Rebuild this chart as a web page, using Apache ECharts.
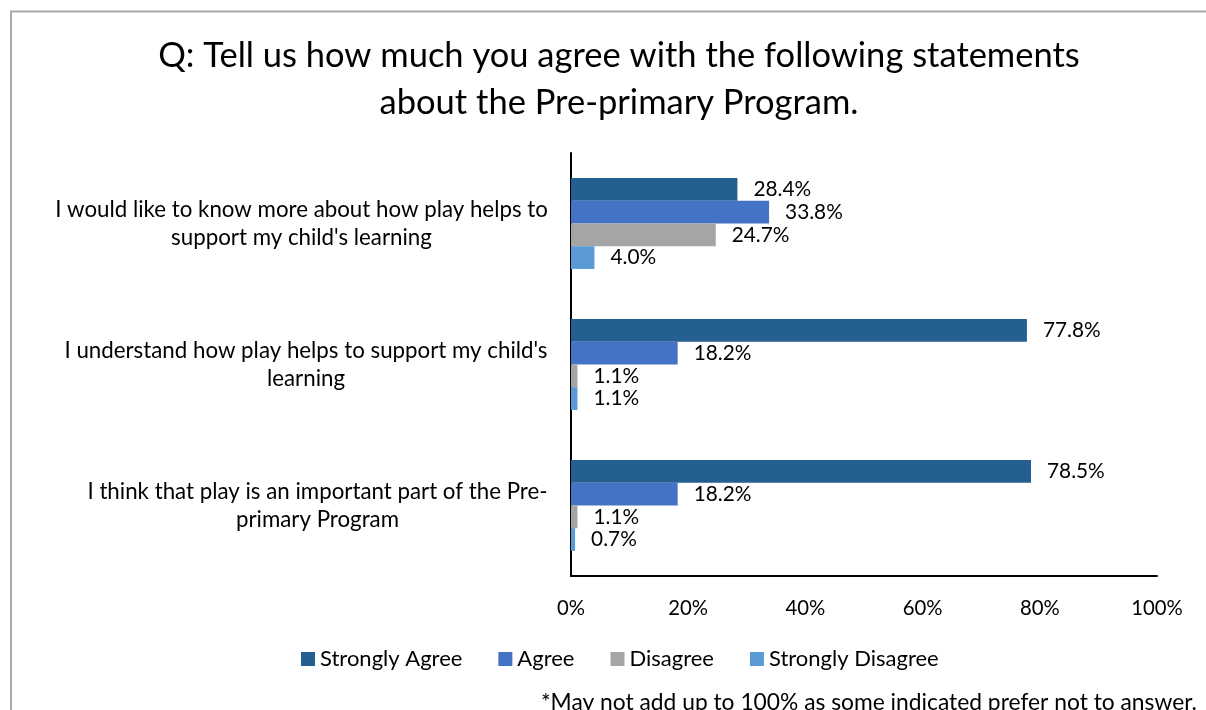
<!DOCTYPE html>
<html>
<head>
<meta charset="utf-8">
<script src="https://cdn.jsdelivr.net/npm/echarts@6/dist/echarts.min.js"></script>
<style>
  html, body { margin: 0; padding: 0; background: #ffffff; }
  #chart { width: 1206px; height: 710px; }
</style>
</head>
<body>
<div id="chart"></div>
<script>
// Survey statements (top to bottom) and response shares in percent
const statements = [
  "I would like to know more about how play helps to\nsupport my child's learning",
  "I understand how play helps to support my child's\nlearning",
  "I think that play is an important part of the Pre-\nprimary Program"
];
const responseNames = ['Strongly Agree', 'Agree', 'Disagree', 'Strongly Disagree'];
const stronglyAgree = [28.4, 77.8, 78.5];
const agree = [33.8, 18.2, 18.2];
const disagree = [24.7, 1.1, 1.1];
const stronglyDisagree = [4.0, 1.1, 0.7];
const tickStep = 20;
const tickMax = 100;

const FONT = 'Lato, "Noto Sans", sans-serif';
const colors = ['#255E91', '#4472C4', '#A5A5A5', '#5B9BD5'];
const seriesValues = [stronglyAgree, agree, disagree, stronglyDisagree];

// Category labels: lines centred within the block, block right-aligned to the axis
const catFontSize = 22.3;
const ctx = document.createElement('canvas').getContext('2d');
ctx.font = catFontSize + 'px ' + FONT;
const rich = {};
statements.forEach(function (s, i) {
  const w = Math.max.apply(null, s.split('\n').map(function (l) { return ctx.measureText(l).width; }));
  rich['c' + i] = { width: Math.ceil(w), align: 'center', fontSize: catFontSize, lineHeight: 28, fontFamily: FONT, color: '#000' };
});

const chart = echarts.init(document.getElementById('chart'), null, { renderer: 'canvas' });

chart.setOption({
  animation: false,
  backgroundColor: '#ffffff',
  title: {
    text: 'Q: Tell us how much you agree with the following statements\nabout the Pre-primary Program.',
    left: 614,
    top: 27,
    textAlign: 'center',
    textStyle: { fontFamily: FONT, fontSize: 34.5, fontWeight: 'normal', color: '#000', lineHeight: 47 }
  },
  legend: {
    data: responseNames,
    left: 296,
    top: 643,
    icon: 'rect',
    itemWidth: 14,
    itemHeight: 14,
    itemGap: 36,
    textStyle: { fontFamily: FONT, fontSize: 22, color: '#000' }
  },
  grid: { left: 571, right: 49, top: 153, bottom: 134, containLabel: false },
  xAxis: {
    type: 'value',
    min: 0,
    max: tickMax,
    interval: tickStep,
    axisLine: { show: true, lineStyle: { color: '#000', width: 2 } },
    axisTick: { show: false },
    splitLine: { show: false },
    axisLabel: { formatter: '{value}%', margin: 22, fontFamily: FONT, fontSize: 20.3, color: '#000' }
  },
  yAxis: {
    type: 'category',
    inverse: true,
    data: statements,
    axisLine: { show: true, lineStyle: { color: '#000', width: 2 } },
    axisTick: { show: false },
    axisLabel: {
      margin: 23,
      formatter: function (value, idx) {
        return value.split('\n').map(function (l) { return '{c' + idx + '|' + l + '}'; }).join('\n');
      },
      rich: rich
    }
  },
  series: seriesValues.map(function (vals, i) {
    return {
      name: responseNames[i],
      type: 'bar',
      data: vals,
      barGap: '0%',
      barCategoryGap: '35.5%',
      itemStyle: { color: colors[i] },
      label: {
        show: true,
        position: 'right',
        distance: 16,
        formatter: function (p) { return p.value.toFixed(1) + '%'; },
        fontFamily: FONT,
        fontSize: 20.8,
        color: '#000'
      }
    };
  }),
  graphic: [
    {
      type: 'rect',
      shape: { x: 11, y: 11.5, width: 1300, height: 800 },
      style: { fill: 'none', stroke: '#A9A9A9', lineWidth: 2 },
      silent: true
    },
    {
      type: 'text',
      x: 1197,
      y: 703,
      style: {
        text: '*May not add up to 100% as some indicated prefer not to answer.',
        textAlign: 'right',
        textVerticalAlign: 'middle',
        fontFamily: FONT,
        fontSize: 22.8,
        fill: '#000'
      }
    }
  ]
});
</script>
</body>
</html>
